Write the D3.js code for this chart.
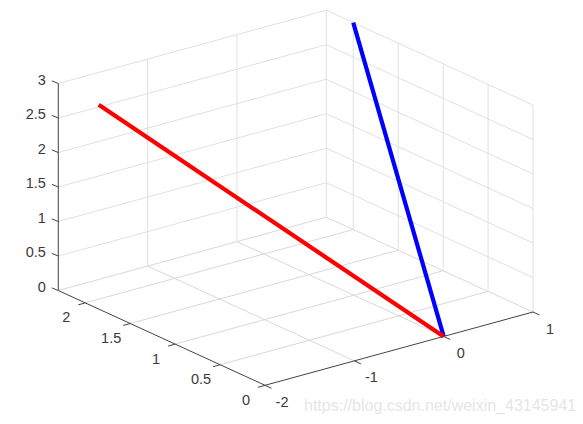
<!DOCTYPE html>
<html><head><meta charset="utf-8">
<script src="https://cdn.jsdelivr.net/npm/d3@7/dist/d3.min.js"></script>
<style>html,body{margin:0;padding:0;background:#fff}svg{display:block}</style>
</head><body><svg id="c" width="583" height="424"></svg>
<script>
const xTicks = [-2, -1, 0, 1];
const yTicks = [0, 0.5, 1, 1.5, 2];
const zTicks = [0, 0.5, 1, 1.5, 2, 2.5, 3];
const zTickLabels = ["0", "0.5", "1", "1.5", "2", "2.5", "3"];
const yTickLabels = ["0", "0.5", "1", "1.5", "2"];
const xTickLabels = ["-2", "-1", "0", "1"];
const xLimits = [-2, 1];
const yLimits = [0, 2.3];
const zLimits = [0, 3];
const blueX = [0, 1], blueY = [0, 2], blueZ = [0, 3];
const redX = [0, -2], redY = [0, 1.85], redZ = [0, 2.96];
const watermark = "https://blog.csdn.net/weixin_43145941";

// oblique 3D projection: each data axis maps linearly to a screen offset
const xToH = d3.scaleLinear().domain(xLimits).range([0, 268]);
const xToV = d3.scaleLinear().domain(xLimits).range([0, -73.3]);
const yToH = d3.scaleLinear().domain(yLimits).range([0, -206.7]);
const yToV = d3.scaleLinear().domain(yLimits).range([0, -94.8]);
const zToV = d3.scaleLinear().domain(zLimits).range([0, -207]);
const X0 = 265, Y0 = 385.3;
const P = (x, y, z) => [X0 + xToH(x) + yToH(y), Y0 + xToV(x) + yToV(y) + zToV(z)];

const svg = d3.select("#c");
const line = d3.line();
const [x0, x1] = xLimits, [y0, y1] = yLimits, [z0, z1] = zLimits;
const draw = (g, a, b, col, w) => g.append("path").attr("d", line([a, b]))
  .attr("fill", "none").attr("stroke", col).attr("stroke-width", w);

const grid = svg.append("g");
const GC = "#e0e0e0", FC = "#d8d8d8";
// horizontal lines on both walls
zTicks.forEach(z => {
  const c = z === 0 ? FC : GC;
  draw(grid, P(x0, y1, z), P(x1, y1, z), c, 1);
  draw(grid, P(x1, y1, z), P(x1, y0, z), c, 1);
});
// verticals on back wall and floor lines for x ticks
xTicks.forEach(x => {
  if (x > x0) draw(grid, P(x, y1, z0), P(x, y1, z1), GC, 1);
  if (x > x0 && x < x1) draw(grid, P(x, y0, z0), P(x, y1, z0), FC, 1);
});
// verticals on side wall and floor lines for y ticks
yTicks.forEach(y => {
  draw(grid, P(x1, y, z0), P(x1, y, z1), GC, 1);
  if (y > y0) draw(grid, P(x0, y, z0), P(x1, y, z0), FC, 1);
});

const ax = svg.append("g");
const AC = "#434343";
draw(ax, P(x0, y1, z0), P(x0, y1, z1), AC, 1);
draw(ax, P(x0, y1, z0), P(x0, y0, z0), AC, 1);
draw(ax, P(x0, y0, z0), P(x1, y0, z0), AC, 1);
const tick = (a, dx, dy) => draw(ax, a, [a[0] + dx, a[1] + dy], AC, 1);
const label = (txt, x, y, anchor) => ax.append("text").text(txt).attr("x", x).attr("y", y)
  .attr("text-anchor", anchor).attr("dominant-baseline", "central")
  .attr("font-family", "'Liberation Sans',Arial,sans-serif").attr("font-size", 14.5).attr("fill", "#3a3a3a");

zTicks.forEach((z, i) => {
  const a = P(x0, y1, z);
  tick(a, -6.5, -2.6);
  label(zTickLabels[i], a[0] - 12.5, a[1] - 3.6, "end");
});
yTicks.forEach((y, i) => {
  const a = P(x0, y, z0);
  tick(a, -7, 2);
  label(yTickLabels[i], a[0] - 19, a[1] + 14.5, "middle");
});
xTicks.forEach((x, i) => {
  const a = P(x, y0, z0);
  tick(a, 6.5, 3);
  label(xTickLabels[i], a[0] + 17, a[1] + 16.5, "middle");
});

const path3 = (xs, ys, zs) => line(xs.map((x, i) => P(x, ys[i], zs[i])));
svg.append("path").attr("d", path3(blueX, blueY, blueZ)).attr("fill", "none").attr("stroke", "#0000ff").attr("stroke-width", 4.2);
svg.append("path").attr("d", path3(redX, redY, redZ)).attr("fill", "none").attr("stroke", "#ff0000").attr("stroke-width", 4.2);

svg.append("text").text(watermark).attr("x", 304).attr("y", 405).attr("dominant-baseline", "central")
  .attr("font-family", "'Liberation Sans',Arial,sans-serif").attr("font-size", 16).attr("fill", "#e6e6e6");
</script></body></html>
